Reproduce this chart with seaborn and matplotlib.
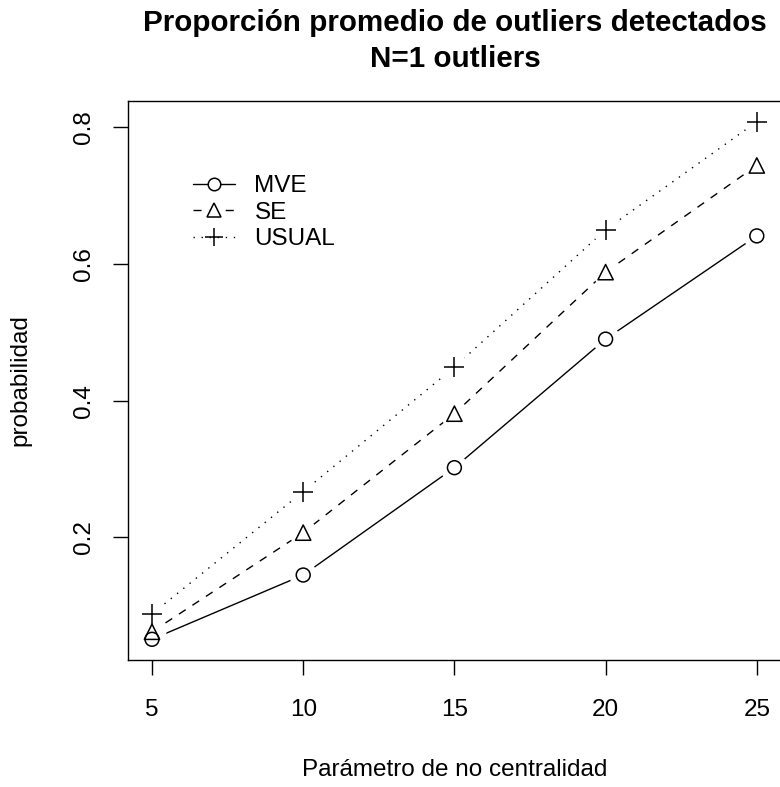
import matplotlib
matplotlib.use("Agg")
import matplotlib.pyplot as plt
from matplotlib.lines import Line2D
import seaborn as sns
import pandas as pd

# ---- data ----
param = [5, 10, 15, 20, 25]
mve = [0.051, 0.145, 0.302, 0.490, 0.641]
se = [0.062, 0.207, 0.381, 0.588, 0.744]
usual = [0.088, 0.267, 0.449, 0.650, 0.808]
series_names = ["MVE", "SE", "USUAL"]
x_ticks = [5, 10, 15, 20, 25]
y_ticks = [0.2, 0.4, 0.6, 0.8]
title_lines = ["Proporción promedio de outliers detectados", "N=1 outliers"]
xlabel = "Parámetro de no centralidad"
ylabel = "probabilidad"

sns.set_theme(style="white")
plt.rcParams["font.family"] = ["Liberation Sans", "DejaVu Sans"]

W, H = 780, 787
fig = plt.figure(figsize=(W / 100, H / 100), dpi=100)
ax = fig.add_axes([127.8 / W, 1 - 660 / H, 653.2 / W, 559 / H])

values = {"MVE": mve, "SE": se, "USUAL": usual}
styles = {
    "MVE": "-",
    "SE": (0, (5.8, 5.8)),
    "USUAL": (0, (1, 4.8)),
}
markers = {"MVE": "o", "SE": "^", "USUAL": "+"}
msize = {"MVE": 10, "SE": 11, "USUAL": 14}

df = pd.concat([pd.DataFrame({"x": param, "y": values[n], "serie": n}) for n in series_names])

for n in series_names:
    d = df[df.serie == n]
    sns.lineplot(data=d, x="x", y="y", ax=ax, color="black", lw=1.0,
                 linestyle=styles[n], zorder=1, legend=False)
# gaps around points (R type="b")
sns.scatterplot(data=df, x="x", y="y", ax=ax, color="white", s=20 ** 2,
                marker="o", linewidth=0, zorder=2, legend=False)
for n in series_names:
    d = df[df.serie == n]
    if markers[n] == "+":
        sns.scatterplot(data=d, x="x", y="y", ax=ax, marker="+", color="black",
                        s=msize[n] ** 2, linewidth=1.1, zorder=3, legend=False)
    else:
        sns.scatterplot(data=d, x="x", y="y", ax=ax, marker=markers[n],
                        facecolor="none", edgecolor="black",
                        s=msize[n] ** 2, linewidth=1.1, zorder=3, legend=False)

ymin, ymax = min(mve), max(usual)
pad = 0.04 * (ymax - ymin)
ax.set_ylim(ymin - pad, ymax + pad)
ax.set_xlim(5 - 0.04 * 20, 25 + 0.04 * 20)
ax.set_xticks(x_ticks)
ax.set_xticklabels([str(v) for v in x_ticks])
ax.set_yticks(y_ticks)
ax.set_yticklabels([f"{v:.1f}" for v in y_ticks], rotation=90, va="center")

for s in ax.spines.values():
    s.set_visible(True)
    s.set_color("black")
    s.set_linewidth(1.0)
ax.tick_params(axis="both", which="both", direction="out", length=10.8, width=1.0,
               color="black", labelsize=17.5, labelcolor="black")
ax.tick_params(axis="x", pad=17, bottom=True)
ax.tick_params(axis="y", pad=13, left=True)

ax.set_xlabel(xlabel, fontsize=17.5, color="black", labelpad=28)
ax.set_ylabel(ylabel, fontsize=17.5, color="black", labelpad=29.5)
for line, base in zip(title_lines, [31, 67]):
    fig.text(455 / W, 1 - base / H, line, ha="center", va="baseline",
             fontsize=21.3, fontweight="bold", color="black")

handles = []
for n in series_names:
    handles.append(Line2D([0], [0], color="black", lw=1.0, linestyle=styles[n],
                          marker=markers[n], markersize=msize[n] * 0.9,
                          markerfacecolor="white", markeredgecolor="black",
                          markeredgewidth=1.1))
ax.legend(handles, series_names, loc="upper left", bbox_to_anchor=(0.0998, 0.867),
          frameon=False, fontsize=17.5, handlelength=1.73, handletextpad=0.8,
          labelspacing=0.18, borderpad=0, borderaxespad=0, labelcolor="black")

fig.savefig("out.png", dpi=100)
